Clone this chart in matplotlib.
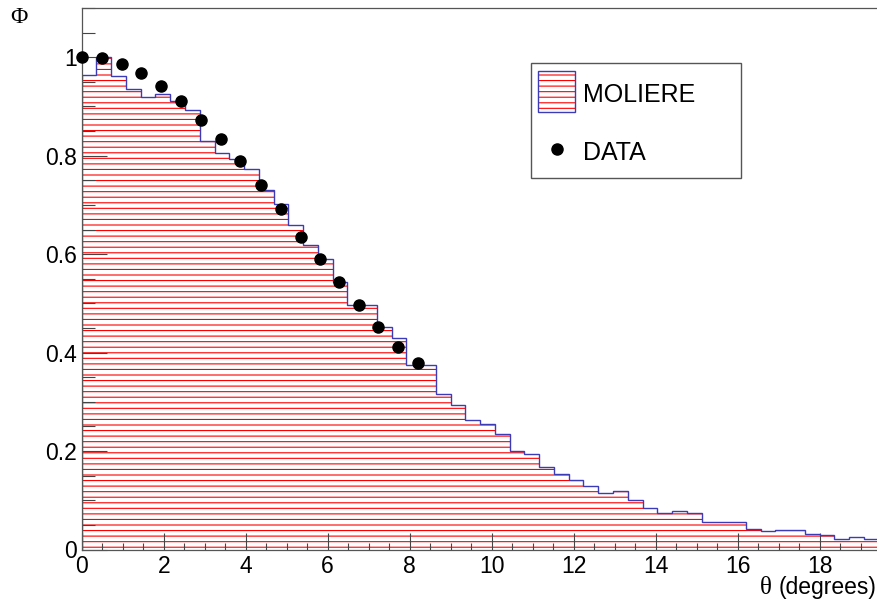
import matplotlib
matplotlib.use("Agg")
import matplotlib.pyplot as plt
import numpy as np
from matplotlib.patches import Rectangle
from matplotlib.lines import Line2D
from matplotlib.ticker import MultipleLocator, FuncFormatter

# Moliere prediction, histogram with 0.36 degree bins starting at 0
bin_width = 0.36
moliere = [
    0.963, 1.000, 0.961, 0.935, 0.919, 0.925, 0.911, 0.893, 0.829, 0.806,
    0.794, 0.772, 0.731, 0.702, 0.660, 0.618, 0.591, 0.544, 0.497, 0.497,
    0.451, 0.429, 0.375, 0.375, 0.315, 0.294, 0.263, 0.254, 0.235, 0.200,
    0.195, 0.168, 0.154, 0.141, 0.129, 0.114, 0.118, 0.100, 0.085, 0.075,
    0.078, 0.074, 0.055, 0.055, 0.055, 0.041, 0.037, 0.040, 0.040, 0.032,
    0.029, 0.022, 0.026, 0.021,
]

# Measured angular distribution
data_theta = [0.0, 0.495, 0.976, 1.454, 1.941, 2.43, 2.917, 3.405, 3.87,
              4.366, 4.854, 5.341, 5.812, 6.283, 6.763, 7.234, 7.722, 8.2]
data_phi = [1.0, 0.998, 0.986, 0.967, 0.942, 0.911, 0.872, 0.833, 0.789,
            0.740, 0.691, 0.635, 0.591, 0.543, 0.496, 0.452, 0.411, 0.379]

x_ticks = [0, 2, 4, 6, 8, 10, 12, 14, 16, 18]
y_ticks = [0, 0.2, 0.4, 0.6, 0.8, 1.0]

plt.rcParams["font.family"] = ["Liberation Sans", "DejaVu Sans"]
plt.rcParams["hatch.color"] = "red"
plt.rcParams["hatch.linewidth"] = 0.8

W, H = 877, 601
fig = plt.figure(figsize=(W / 100, H / 100), dpi=100)


def fx(px):
    return px / W


def fy(py):
    return 1 - py / H


left_px, bottom_px, top_px = 81.7, 549.5, 8.0
ax = fig.add_axes([fx(left_px), fy(bottom_px), 1 - fx(left_px), (bottom_px - top_px) / H])

edges = np.arange(len(moliere) + 1) * bin_width
ax.stairs(moliere, edges, fill=True, facecolor="none", edgecolor="red",
          hatch="---", linewidth=0, zorder=1)
ax.stairs(moliere, edges, color="#3b3bb8", linewidth=1.0, zorder=2)

ax.plot(data_theta, data_phi, "o", color="black", markersize=8,
        zorder=5, clip_on=False)

ax.set_xlim(0, 19.4)
ax.set_ylim(0, 1.1)

ax.set_xticks(x_ticks)
ax.set_yticks(y_ticks)
ax.xaxis.set_minor_locator(MultipleLocator(0.5))
ax.yaxis.set_minor_locator(MultipleLocator(0.05))
fmt = FuncFormatter(lambda v, _: f"{v:g}")
ax.xaxis.set_major_formatter(fmt)
ax.yaxis.set_major_formatter(fmt)

tick_col = "#444444"
ax.tick_params(axis="both", which="both", direction="in", color=tick_col,
               width=0.8, labelsize=16.5, labelcolor="black")
ax.tick_params(axis="x", which="major", length=12, pad=4)
ax.tick_params(axis="x", which="minor", length=5)
ax.tick_params(axis="y", which="major", length=18, pad=3.5)
ax.tick_params(axis="y", which="minor", length=9.5)

for side in ("left", "bottom", "top"):
    ax.spines[side].set_color("#555555")
    ax.spines[side].set_linewidth(0.9)
ax.spines["right"].set_visible(False)

# Axis titles
fig.text(fx(18.5), fy(17.5), "Φ", family="Liberation Serif", fontsize=17,
         ha="center", va="center")
fig.text(fx(876), fy(594), "(degrees)", fontsize=16.5,
         ha="right", va="baseline")
fig.text(fx(766), fy(594), "θ", family="Liberation Serif", fontsize=18,
         ha="center", va="baseline")

# Legend
fig.patches.append(Rectangle((fx(530.7), fy(177.7)), (740.7 - 530.7) / W,
                             (177.7 - 63.3) / H, transform=fig.transFigure,
                             facecolor="white", edgecolor="#555555",
                             linewidth=1.0, zorder=6))
fig.patches.append(Rectangle((fx(538), fy(111.7)), 37 / W, 40.7 / H,
                             transform=fig.transFigure, facecolor="none",
                             edgecolor="red", hatch="---", linewidth=0,
                             zorder=7))
fig.patches.append(Rectangle((fx(538), fy(111.7)), 37 / W, 40.7 / H,
                             transform=fig.transFigure, facecolor="none",
                             edgecolor="#3b3bb8", linewidth=1.0, zorder=8))
fig.lines.append(Line2D([fx(556.7)], [fy(149)], marker="o", color="black",
                        markersize=8, linestyle="none",
                        transform=fig.transFigure, zorder=8))
fig.text(fx(583), fy(101.5), "MOLIERE", fontsize=18, ha="left",
         va="baseline", zorder=9)
fig.text(fx(583), fy(160), "DATA", fontsize=18, ha="left",
         va="baseline", zorder=9)

fig.savefig("out.png", dpi=100)
